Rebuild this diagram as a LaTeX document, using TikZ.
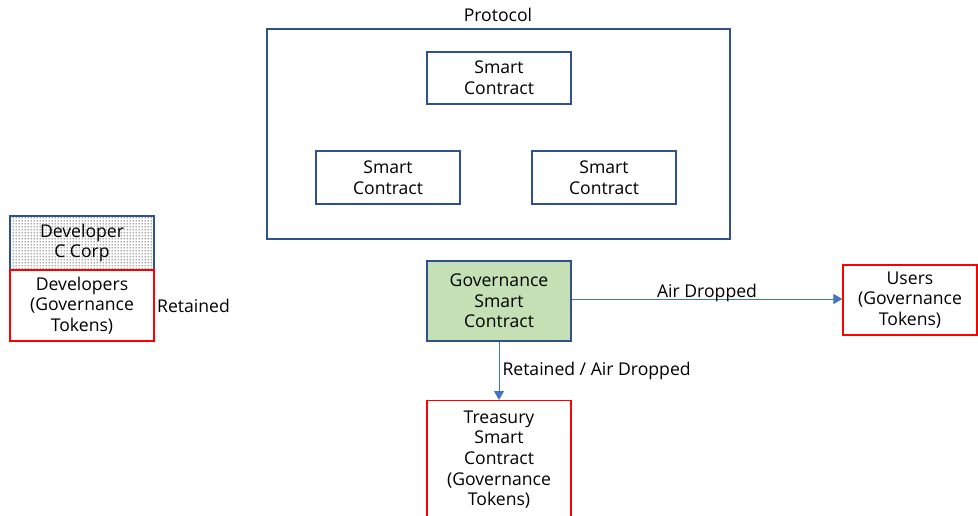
\documentclass[tikz,border=0pt]{standalone}
\usepackage{fontspec}
\setmainfont{Open Sans}
\usepackage{tikz}
\usetikzlibrary{arrows.meta,patterns}
\definecolor{boxblue}{HTML}{2F528F}
\definecolor{arrowblue}{HTML}{4472C4}
\definecolor{govgreen}{HTML}{C5E0B4}
\pgfdeclarepatternformonly{corpdots}{\pgfpointorigin}{\pgfpoint{3pt}{3pt}}{\pgfpoint{3pt}{3pt}}{%
  \pgfpathcircle{\pgfpoint{1.5pt}{1.5pt}}{0.8pt}\pgfusepath{fill}}
\tikzset{
  box/.style={draw=boxblue, line width=1.3pt, align=center, inner sep=0pt,
    minimum width=144pt, font=\fontsize{17.6}{20.6}\selectfont},
  tokenbox/.style={box, draw=red},
  flow/.style={draw=arrowblue, line width=1pt, -{Triangle[length=9pt,width=10pt]}},
  lbl/.style={font=\fontsize{17.6}{20.6}\selectfont, inner sep=0pt}
}
\begin{document}
\begin{tikzpicture}[x=1pt,y=-1pt]
\useasboundingbox (0,0) rectangle (978,516);
% protocol
\node[lbl] (protolbl) at (498,15) {Protocol};
\node[box, minimum width=463pt, minimum height=210pt] (protocol) at (498.5,134) {};
\node[box, minimum height=52pt] (sctop) at (499,78) {Smart\\Contract};
\node[box, minimum height=53pt] (scleft) at (388,177.5) {Smart\\Contract};
\node[box, minimum height=53pt] (scright) at (604,177.5) {Smart\\Contract};
% developers
\node[box, minimum height=54pt, pattern=corpdots, pattern color=black!80] (corp) at (82,243) {Developer\\C Corp};
\node[tokenbox, minimum height=71pt] (devs) at (82,305.5) {Developers\\(Governance\\Tokens)};
\node[lbl, anchor=west] (retained) at (157,305.5) {Retained};
% governance
\node[box, fill=govgreen, minimum height=80pt] (gov) at (499,301) {Governance\\Smart\\Contract};
\node[tokenbox, minimum width=134pt, minimum height=70pt] (users) at (910,300) {Users\\(Governance\\Tokens)};
\node[tokenbox, minimum height=118pt, anchor=north] (treasury) at (499,400) {Treasury\\Smart\\Contract\\(Governance\\Tokens)};
% flows
\draw[flow] (gov.east |- 0,299) -- node[lbl, above=-3pt] {Air Dropped} (users.west |- 0,299);
\draw[flow] (gov.south) -- node[lbl, right=3pt] {Retained / Air Dropped} (treasury.north);
\end{tikzpicture}
\end{document}
